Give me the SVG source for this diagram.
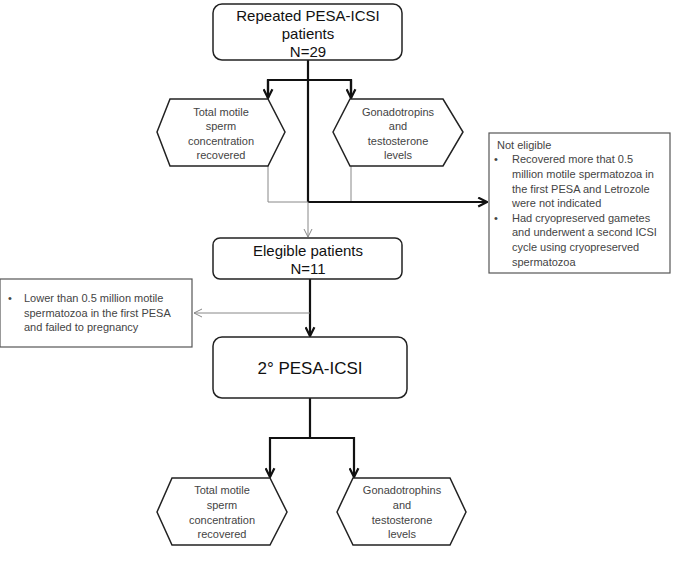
<svg xmlns="http://www.w3.org/2000/svg" width="680" height="571" viewBox="0 0 680 571">
<defs>
<style>
.box{fill:#fff;stroke:#222;stroke-width:1.5}
.sq{fill:#fff;stroke:#555;stroke-width:1.2}
.big{font-family:"Liberation Sans",Arial,sans-serif;font-size:15px;fill:#111;text-anchor:middle}
.sm{font-family:"Liberation Sans",Arial,sans-serif;font-size:11px;fill:#444;text-anchor:middle}
.tx{font-family:"Liberation Sans",Arial,sans-serif;font-size:11px;fill:#444}
.thick{fill:none;stroke:#111;stroke-width:2.2}
.thin{fill:none;stroke:#888;stroke-width:1}
</style>
<marker id="ah" viewBox="0 0 10 10" refX="9" refY="5" markerWidth="5" markerHeight="5" orient="auto"><path d="M1,1 L9,5 L1,9" fill="none" stroke="#111" stroke-width="2"/></marker>
<marker id="ao" viewBox="0 0 10 10" refX="9" refY="5" markerWidth="10" markerHeight="10" orient="auto"><path d="M1,1 L9,5 L1,9" fill="none" stroke="#888" stroke-width="1"/></marker>
</defs>
<rect width="680" height="571" fill="#fff"/>
<g id="connectors">
<path class="thick" d="M308,60 V202"/>
<path class="thick" d="M268,98 V80 H351 V98" />
<path class="thick" d="M268,80 V98" marker-end="url(#ah)"/>
<path class="thick" d="M351,80 V98" marker-end="url(#ah)"/>
<path class="thin" d="M268,166 V202 H351 V166"/>
<path class="thick" d="M308,202 H487" marker-end="url(#ah)"/>
<path class="thin" d="M308,202 V237" marker-end="url(#ao)"/>
<path class="thick" d="M310,279 V336" marker-end="url(#ah)"/>
<path class="thin" d="M310,313 H194" marker-end="url(#ao)"/>
<path class="thick" d="M310,398 V438 H270 V477" marker-end="url(#ah)"/>
<path class="thick" d="M310,438 H354 V477" marker-end="url(#ah)"/>
</g>
<g id="n1"><rect class="box" x="213" y="4" width="189" height="56" rx="9"/>
<text class="big" x="308" y="21">Repeated PESA-ICSI</text><text class="big" x="308" y="39">patients</text><text class="big" x="308" y="57">N=29</text></g>
<g id="n2"><polygon class="box" points="157,132 170,99 268,99 285,132 268,166 170,166"/>
<text class="sm" x="221" y="116">Total motile</text><text class="sm" x="221" y="130">sperm</text><text class="sm" x="221" y="145">concentration</text><text class="sm" x="221" y="159">recovered</text></g>
<g id="n3"><polygon class="box" points="333,132 350,99 443,99 463,132 443,166 350,166"/>
<text class="sm" x="398" y="116">Gonadotropins</text><text class="sm" x="398" y="130">and</text><text class="sm" x="398" y="145">testosterone</text><text class="sm" x="398" y="159">levels</text></g>
<g id="n4"><rect class="sq" x="489" y="133" width="181" height="140"/>
<text class="tx" x="497" y="149">Not eligible</text>
<text class="tx" x="494" y="163">•</text>
<text class="tx" x="512" y="163">Recovered more that 0.5</text>
<text class="tx" x="512" y="178">million motile spermatozoa in</text>
<text class="tx" x="512" y="193">the first PESA and Letrozole</text>
<text class="tx" x="512" y="207">were not indicated</text>
<text class="tx" x="494" y="222">•</text>
<text class="tx" x="512" y="222">Had cryopreserved gametes</text>
<text class="tx" x="512" y="236">and underwent  a second ICSI</text>
<text class="tx" x="512" y="251">cycle using cryopreserved</text>
<text class="tx" x="512" y="266">spermatozoa</text></g>
<g id="n5"><rect class="box" x="213" y="238" width="189" height="41" rx="7"/>
<text class="big" x="308" y="256">Elegible patients</text><text class="big" x="308" y="274">N=11</text></g>
<g id="n6"><rect class="sq" x="0" y="279" width="192" height="68"/>
<text class="tx" x="8" y="302">•</text>
<text class="tx" x="24" y="302">Lower than 0.5 million motile</text>
<text class="tx" x="24" y="317">spermatozoa in the first PESA</text>
<text class="tx" x="24" y="331">and failed to pregnancy</text></g>
<g id="n7"><rect class="box" x="213" y="337" width="194" height="61" rx="9"/>
<text class="big" x="310" y="374" style="font-size:17px">2° PESA-ICSI</text></g>
<g id="n8"><polygon class="box" points="157,512 172,478 270,478 287,512 270,545 172,545"/>
<text class="sm" x="222" y="494">Total motile</text><text class="sm" x="222" y="509">sperm</text><text class="sm" x="222" y="524">concentration</text><text class="sm" x="222" y="538">recovered</text></g>
<g id="n9"><polygon class="box" points="337,512 353,478 450,478 466,512 450,545 353,545"/>
<text class="sm" x="402" y="494">Gonadotrophins</text><text class="sm" x="402" y="509">and</text><text class="sm" x="402" y="524">testosterone</text><text class="sm" x="402" y="538">levels</text></g>
</svg>
